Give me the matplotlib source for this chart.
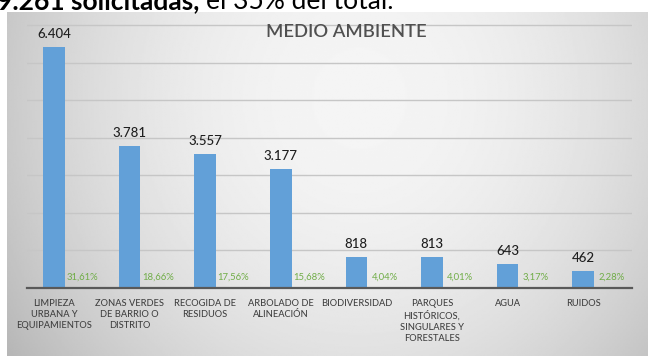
import numpy as np
import matplotlib
matplotlib.use("Agg")
import matplotlib.pyplot as plt

plt.rcParams['font.family'] = ['Lato', 'DejaVu Sans']

categories = [
    "LIMPIEZA\nURBANA Y\nEQUIPAMIENTOS",
    "ZONAS VERDES\nDE BARRIO O\nDISTRITO",
    "RECOGIDA DE\nRESIDUOS",
    "ARBOLADO DE\nALINEACIÓN",
    "BIODIVERSIDAD",
    "PARQUES\nHISTÓRICOS,\nSINGULARES Y\nFORESTALES",
    "AGUA",
    "RUIDOS",
]
solicitudes = [6404, 3781, 3557, 3177, 818, 813, 643, 462]
porcentajes = [31.61, 18.66, 17.56, 15.68, 4.04, 4.01, 3.17, 2.28]

W, H = 648, 356
fig = plt.figure(figsize=(W / 100, H / 100), dpi=100)
fig.patch.set_facecolor("white")

# grey gradient panel behind the chart
bg = fig.add_axes([7 / W, 0, (W - 7) / W, (H - 12) / H])
gx, gy = np.meshgrid(np.linspace(0, 1, 400), np.linspace(0, 1, 250))
r = np.sqrt(((gx - 0.55) / 0.6) ** 2 + ((gy - 0.25) / 1.2) ** 2)
shade = np.clip(0.96 - 0.2 * r ** 2, 0, 1)
bg.imshow(shade, cmap="gray", vmin=0, vmax=1, aspect="auto",
          extent=[0, 1, 0, 1], origin="upper")
bg.axis("off")

base_px = 288
top_px = 12
ax = fig.add_axes([27 / W, (H - base_px) / H, (632 - 27) / W, (base_px - top_px) / H])
ax.set_facecolor("none")

x = np.arange(len(categories))
ax.bar(x, solicitudes, width=0.285, color="#62a0d8", zorder=3)

ax.set_xlim(-0.357, 7.646)
ax.set_ylim(0, 7346)
ax.set_yticks(np.arange(1000, 8000, 1000))
ax.yaxis.grid(True, color="#c6c6c6", linewidth=1.0, zorder=0)
ax.tick_params(axis="y", left=False, labelleft=False)

for s in ["top", "right", "left"]:
    ax.spines[s].set_visible(False)
ax.spines["bottom"].set_color("#595959")
ax.spines["bottom"].set_linewidth(1.6)
ax.spines["bottom"].set_zorder(4)

ax.set_xticks(x)
ax.set_xticklabels(categories, fontsize=6.7, color="#404040", linespacing=1.3,
                   fontweight="medium")
ax.tick_params(axis="x", length=0, pad=8)

for xi, v, p in zip(x, solicitudes, porcentajes):
    ax.annotate(f"{v:,}".replace(",", "."), (xi, v), xytext=(0, 6.5),
                textcoords="offset points", ha="center", va="baseline",
                fontsize=9.5, fontweight="medium", color="#1f1f1f")
    ax.text(xi + 0.375, 290, f"{p:.2f}%".replace(".", ","), ha="center",
            va="center", fontsize=6.8, color="#70ad47", zorder=5)

fig.text(346 / W, 1 - 32 / H, "MEDIO AMBIENTE", ha="center", va="center",
         fontsize=13.2, fontweight="semibold", color="#505050")

# sentence cut off at the top edge
t1 = fig.text(-3 / W, 1 - 9 / H, "9.261 solicitadas,", fontsize=19,
              fontweight="bold", color="black", va="baseline", ha="left")
fig.canvas.draw()
ext = t1.get_window_extent(fig.canvas.get_renderer())
fig.text((ext.x1 + 7) / W, 1 - 9 / H, "el 35% del total.", fontsize=19,
         color="black", va="baseline", ha="left")

fig.savefig("out.png", dpi=100)
